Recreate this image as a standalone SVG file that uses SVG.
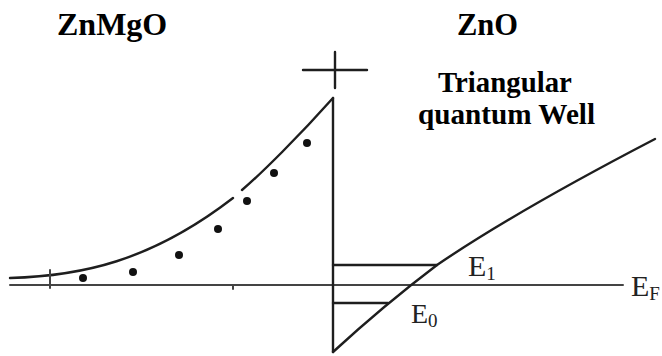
<svg xmlns="http://www.w3.org/2000/svg" width="662" height="356" viewBox="0 0 662 356">
<style>
.ln{fill:none;stroke:#1e1e1e;stroke-width:2.4;stroke-linecap:round;stroke-linejoin:round}
.thin{fill:none;stroke:#444;stroke-width:2;stroke-linecap:round}
.dot{fill:#111}
</style>
<rect width="662" height="356" fill="#fff"/>
<g id="labels">
<text x="57" y="35" font-family="Liberation Serif" font-weight="bold" font-size="32" fill="#000">ZnMgO</text>
<text x="457" y="35" font-family="Liberation Serif" font-weight="bold" font-size="30.5" fill="#000">ZnO</text>
<text x="438" y="92" font-family="Liberation Serif" font-weight="bold" font-size="28.8" fill="#000">Triangular</text>
<text x="418" y="124" font-family="Liberation Serif" font-weight="bold" font-size="29.2" fill="#000">quantum Well</text>
</g>
<g id="connectors">
<path class="ln" d="M303,70 H367 M335,52 V88"/>
<path class="thin" d="M10,285 H623"/>
<path class="ln" d="M10,278 C80,276 150,262 233,198"/>
<path class="ln" d="M242,190 C262,173 300,135 333,98"/>
<path class="ln" d="M333,98 V352"/>
<path class="ln" d="M333,352 C370,318 400,293 437,265 C500,222 580,178 655,139"/>
<path class="ln" d="M333,265 H437"/>
<path class="ln" d="M333,303 H388"/>
<path class="thin" d="M50,270 V288"/>
<path class="thin" d="M233,285 V289"/>
</g>
<g id="dots">
<circle class="dot" cx="83" cy="278" r="4"/>
<circle class="dot" cx="133" cy="272" r="4"/>
<circle class="dot" cx="179" cy="255" r="4"/>
<circle class="dot" cx="218" cy="229" r="4"/>
<circle class="dot" cx="247" cy="201" r="4"/>
<circle class="dot" cx="274" cy="173" r="4"/>
<circle class="dot" cx="307" cy="143" r="4"/>
</g>
<g id="levels">
<text x="468" y="276" font-family="Liberation Serif" font-size="30" fill="#222">E<tspan font-size="19" dy="4">1</tspan></text>
<text x="411" y="323" font-family="Liberation Serif" font-size="28" fill="#222">E<tspan font-size="19" dy="4">0</tspan></text>
<text x="631" y="296" font-family="Liberation Serif" font-size="30" fill="#222">E<tspan font-size="19" dy="4">F</tspan></text>
</g>
</svg>
